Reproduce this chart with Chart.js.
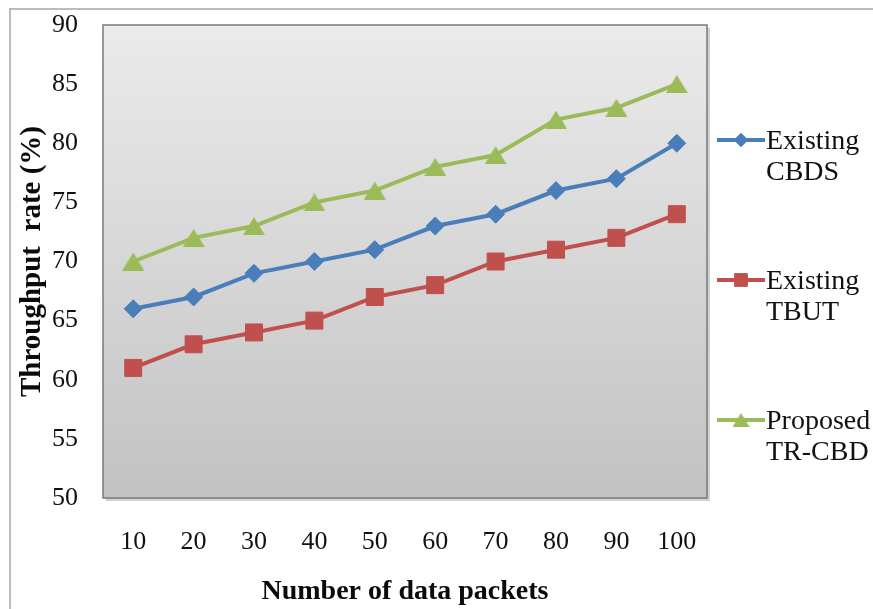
<!DOCTYPE html>
<html>
<head>
<meta charset="utf-8">
<script src="https://cdn.jsdelivr.net/npm/chart.js@4/dist/chart.umd.min.js"></script>
<style>
  html, body { margin: 0; padding: 0; background: #ffffff; }
  #wrap { width: 873px; height: 609px; position: relative; }
</style>
</head>
<body>
<div id="wrap"><canvas id="c" width="873" height="609"></canvas></div>
<script>
// Number of data packets (x categories)
const packets = ['10', '20', '30', '40', '50', '60', '70', '80', '90', '100'];

// Throughput rate (%) per scheme
const cbds   = [66, 67, 69, 70, 71, 73, 74, 76, 77, 80];
const tbut   = [61, 63, 64, 65, 67, 68, 70, 71, 72, 74];
const trcbd  = [70, 72, 73, 75, 76, 78, 79, 82, 83, 85];

// Legend labels, split across two lines each
const seriesNames = [['Existing', 'CBDS'], ['Existing', 'TBUT'], ['Proposed', 'TR-CBD']];

const yMin = 50, yMax = 90, yStep = 5;

const SERIF = '"Liberation Serif", "DejaVu Serif", serif';

// Triangle marker centred on its bounding box
function triangleMarker(color, w, h) {
  const cv = document.createElement('canvas');
  cv.width = w; cv.height = h;
  const c = cv.getContext('2d');
  c.fillStyle = color;
  c.beginPath();
  c.moveTo(w / 2, 0);
  c.lineTo(w, h);
  c.lineTo(0, h);
  c.closePath();
  c.fill();
  return cv;
}

// Gray gradient plot background, framed plot box and outer frame
const plotDecor = {
  id: 'plotDecor',
  beforeDraw(chart) {
    const { ctx, chartArea: a } = chart;
    ctx.save();
    // outer frame
    ctx.strokeStyle = '#a6a6a6';
    ctx.lineWidth = 1.5;
    ctx.beginPath();
    ctx.moveTo(10, chart.height);
    ctx.lineTo(10, 9);
    ctx.lineTo(chart.width, 9);
    ctx.stroke();
    // drop shadow of plot box
    ctx.fillStyle = 'rgba(0,0,0,0.18)';
    ctx.fillRect(a.left + 3, a.top + 3, a.right - a.left, a.bottom - a.top);
    // gradient fill
    const g = ctx.createLinearGradient(0, a.top, 0, a.bottom);
    g.addColorStop(0, '#ebebeb');
    g.addColorStop(1, '#c2c2c2');
    ctx.fillStyle = g;
    ctx.fillRect(a.left, a.top, a.right - a.left, a.bottom - a.top);
    ctx.restore();
  },
  beforeDatasetsDraw(chart) {
    const { ctx, chartArea: a } = chart;
    ctx.save();
    ctx.strokeStyle = '#7a7a7a';
    ctx.lineWidth = 1.5;
    ctx.strokeRect(a.left, a.top, a.right - a.left, a.bottom - a.top);
    ctx.restore();
  }
};

// Legend at the right: line sample with marker, two-line label
const sideLegend = {
  id: 'sideLegend',
  afterDraw(chart) {
    const { ctx } = chart;
    ctx.save();
    chart.data.datasets.forEach((ds, i) => {
      const y = 140 + i * 140;
      ctx.strokeStyle = ds.borderColor;
      ctx.lineWidth = 4;
      ctx.beginPath();
      ctx.moveTo(717, y);
      ctx.lineTo(765, y);
      ctx.stroke();
      ctx.fillStyle = ds.pointBackgroundColor;
      ctx.strokeStyle = ds.pointBorderColor;
      ctx.lineWidth = 1;
      const style = ds.legendStyle || ds.pointStyle;
      Chart.helpers.drawPoint(ctx, {
        pointStyle: style,
        radius: ds.pointRadius * 0.75,
        rotation: 0,
        borderWidth: 1
      }, 741, y);
      ctx.fillStyle = '#111111';
      ctx.font = '28px ' + SERIF;
      ctx.textAlign = 'left';
      ctx.textBaseline = 'middle';
      const lines = seriesNames[i];
      lines.forEach((t, k) => ctx.fillText(t, 766, y + 2 + k * 31));
    });
    ctx.restore();
  }
};

function series(label, data, color, style, radius) {
  return {
    label,
    data,
    borderColor: color,
    backgroundColor: color,
    pointBackgroundColor: color,
    pointBorderColor: color,
    pointStyle: style,
    pointRadius: radius,
    pointHoverRadius: radius,
    pointBorderWidth: 1,
    borderWidth: 4,
    tension: 0,
    fill: false
  };
}

const green = '#9bbb59';
const greenTri = series(seriesNames[2].join(' '), trcbd, green, triangleMarker(green, 22, 18), 10);
greenTri.legendStyle = triangleMarker(green, 17, 14);

new Chart(document.getElementById('c'), {
  type: 'line',
  data: {
    labels: packets,
    datasets: [
      series(seriesNames[0].join(' '), cbds, '#4a7ebb', 'rectRot', 9),
      series(seriesNames[1].join(' '), tbut, '#c0504d', 'rect', 12),
      greenTri
    ]
  },
  options: {
    responsive: false,
    animation: false,
    devicePixelRatio: 1,
    layout: { padding: { left: 0, top: 25, right: 166, bottom: 0 } },
    plugins: {
      legend: { display: false },
      tooltip: { enabled: false }
    },
    scales: {
      x: {
        type: 'category',
        offset: true,
        grid: { display: false, drawTicks: false },
        border: { display: false },
        ticks: {
          color: '#111111',
          font: { family: SERIF, size: 26 },
          padding: 29,
          maxRotation: 0
        },
        title: {
          display: true,
          text: 'Number of data packets',
          color: '#0a0a0a',
          font: { family: SERIF, size: 28, weight: 'bold' },
          padding: { top: 1, bottom: 0 }
        },
        afterFit(scale) { scale.height = 111; }
      },
      y: {
        min: yMin,
        max: yMax,
        // hidden grid; the tick length only spaces the labels from the box
        grid: { display: false, drawTicks: true, tickLength: 25 },
        border: { display: false },
        ticks: {
          stepSize: yStep,
          color: '#111111',
          font: { family: SERIF, size: 26 },
          padding: 0
        },
        title: {
          display: true,
          text: 'Throughput  rate (%)',
          color: '#0a0a0a',
          font: { family: SERIF, size: 29, weight: 'bold' },
          padding: { top: 15, bottom: 0 }
        },
        afterFit(scale) { scale.width = 103; }
      }
    }
  },
  plugins: [plotDecor, sideLegend]
});
</script>
</body>
</html>
